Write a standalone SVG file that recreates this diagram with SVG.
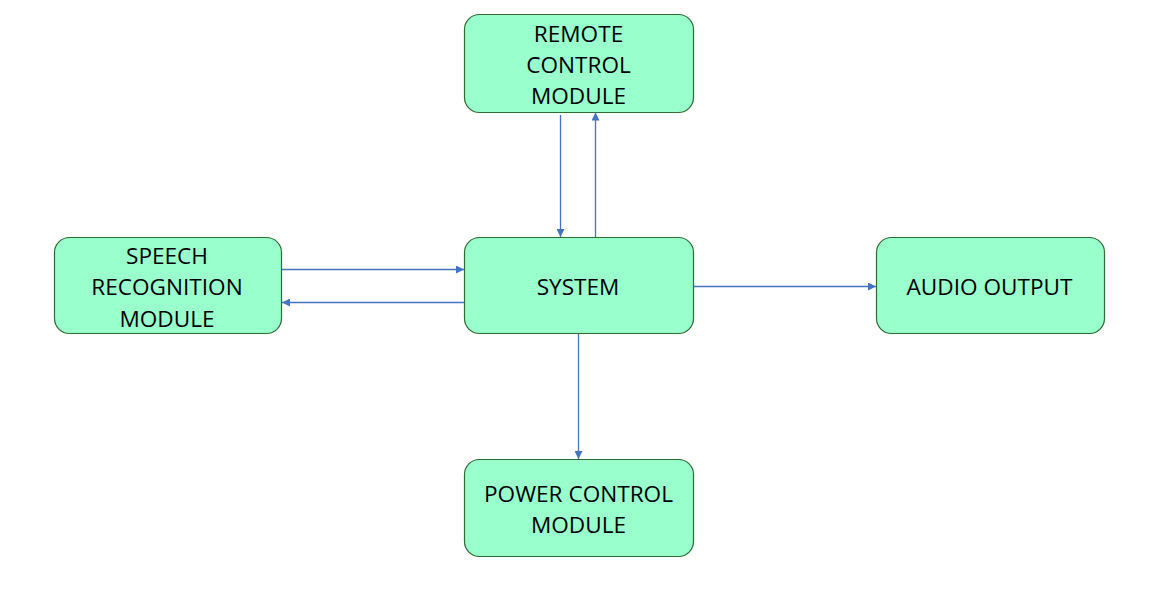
<svg xmlns="http://www.w3.org/2000/svg" width="1168" height="612" viewBox="0 0 1168 612">
<style>
.box{fill:#99FFCC;stroke:#2F6B33;stroke-width:1.2}
.t{font-family:"Open Sans","Liberation Sans",sans-serif;font-size:22.6px;fill:#000;text-anchor:middle}
.c{stroke:#4472C4;stroke-width:1.3;fill:none;marker-end:url(#ah)}
</style>
<defs>
<marker id="ah" viewBox="0 0 10 10" refX="10" refY="5" markerWidth="8" markerHeight="8" markerUnits="userSpaceOnUse" orient="auto">
<path d="M0,0 L10,5 L0,10 z" fill="#4472C4"/>
</marker>
</defs>
<rect width="1168" height="612" fill="#fff"/>
<g id="remote">
<rect class="box" x="464.5" y="14.5" width="229" height="98" rx="15"/>
<text class="t" x="578.5" y="41.5">REMOTE</text>
<text class="t" x="578.5" y="72.5">CONTROL</text>
<text class="t" x="578.5" y="104">MODULE</text>
</g>
<g id="speech">
<rect class="box" x="54.5" y="237.5" width="227" height="96" rx="15"/>
<text class="t" x="167" y="264">SPEECH</text>
<text class="t" x="167" y="295">RECOGNITION</text>
<text class="t" x="167" y="326.5">MODULE</text>
</g>
<g id="system">
<rect class="box" x="464.5" y="237.5" width="229" height="96" rx="15"/>
<text class="t" x="578" y="295">SYSTEM</text>
</g>
<g id="audio">
<rect class="box" x="876.5" y="237.5" width="228" height="96" rx="15"/>
<text class="t" x="989.5" y="295">AUDIO OUTPUT</text>
</g>
<g id="power">
<rect class="box" x="464.5" y="459.5" width="229" height="97" rx="15"/>
<text class="t" x="578.5" y="502">POWER CONTROL</text>
<text class="t" x="578.5" y="533">MODULE</text>
</g>
<g id="connectors">
<line class="c" x1="560.5" y1="115" x2="560.5" y2="237"/>
<line class="c" x1="595.5" y1="237" x2="595.5" y2="112.5"/>
<line class="c" x1="282" y1="269.5" x2="464" y2="269.5"/>
<line class="c" x1="464" y1="302.5" x2="282" y2="302.5"/>
<line class="c" x1="694" y1="286.5" x2="876" y2="286.5"/>
<line class="c" x1="578.5" y1="334" x2="578.5" y2="459"/>
</g>
</svg>
